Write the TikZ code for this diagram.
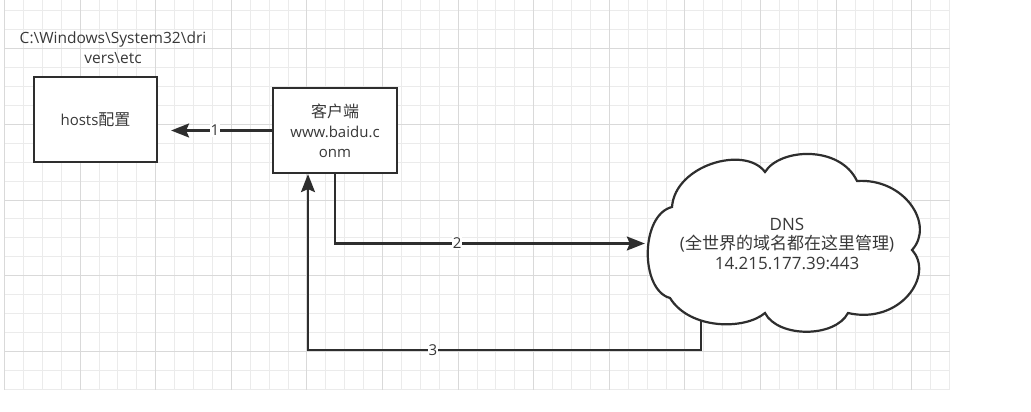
\documentclass[tikz,border=0pt]{standalone}
\usepackage{fontspec}
\setmainfont{Open Sans}
\newfontfamily\cjk{Noto Sans CJK SC}
\newcommand\zh[1]{{\cjk\fontsize{16}{20}\selectfont #1}}
\usetikzlibrary{arrows.meta}
\definecolor{ink}{HTML}{2E2E2E}
\definecolor{txt}{HTML}{383838}
\definecolor{gridminor}{HTML}{EBEBEB}
\definecolor{gridmajor}{HTML}{D9D9D9}
\begin{document}
\begin{tikzpicture}[x=1pt,y=-1pt,
  txtfont/.style={text=txt,font=\fontsize{15}{20}\selectfont},
  box/.style={draw=ink,line width=2.2pt,fill=white,inner sep=0pt,
    align=center,txtfont},
  conn/.style={draw=ink,line width=2.2pt,
    -{Stealth[length=18pt,width=14pt,inset=3pt]}},
  lbl/.style={fill=white,inner sep=1pt,txtfont},
  shape outline/.style={draw=ink,line width=2.2pt,fill=white}]
\useasboundingbox (0,0) rectangle (1031,412);
\fill[white] (0,0) rectangle (1031,412);

% background grid: fine lines every 18.9, heavier every fourth
\foreach \i in {0,...,50}
  \draw[gridminor,line width=1pt] ({4.5+18.9*\i},0) -- ({4.5+18.9*\i},389.5);
\foreach \j in {1,...,21}
  \draw[gridminor,line width=1pt] (4.5,{-7.9+18.9*\j}) -- (949.5,{-7.9+18.9*\j});
\foreach \i in {0,4,...,48}
  \draw[gridmajor,line width=1pt] ({4.5+18.9*\i},0) -- ({4.5+18.9*\i},389.5);
\foreach \j in {3,7,...,19}
  \draw[gridmajor,line width=1pt] (4.5,{-7.9+18.9*\j}) -- (949.5,{-7.9+18.9*\j});

% boxes
\node[box,minimum width=123pt,minimum height=85pt] (hosts) at (95.5,119.5)
  {hosts\zh{配置}};
\node[align=center,inner sep=0pt,text=txt,font=\fontsize{15.5}{20}\selectfont]
  (hostspath) at (113,48)
  {C:\textbackslash Windows\textbackslash System32\textbackslash dri\\
   vers\textbackslash etc};
\node[box,minimum width=124pt,minimum height=85pt] (client) at (335,130.5)
  {\zh{客户端}\\www.baidu.c\\onm};

% invisible frame of the cloud, used as the connector target
\node[inner sep=0pt,minimum width=284pt,minimum height=177pt] (dns) at (787,243.5) {};
\coordinate (foot) at (701,300);
\coordinate (turn) at (308,350);

% step 3: back from the cloud to the client
\draw[conn] (foot) |- node[pos=0.841,lbl] {3} (turn) -- (turn |- client.south);

% the cloud
\draw[shape outline]
  (670,298) .. controls (640,290) and (640,215) .. (672,207)
  .. controls (675,165) and (745,145) .. (765,172)
  .. controls (780,148) and (840,145) .. (857,181)
  .. controls (905,178) and (935,225) .. (912,250)
  .. controls (935,275) and (900,325) .. (848,313)
  .. controls (835,338) and (778,338) .. (765,313)
  .. controls (745,330) and (690,330) .. (670,298) -- cycle;
\node[align=center,inner sep=0pt,text=txt,font=\fontsize{17}{19.5}\selectfont]
  (dnstext) at (dns.center)
  {DNS\\({\cjk\fontsize{17}{19.5}\selectfont 全世界的域名都在这里管理})\\14.215.177.39:443};

% step 1: look up the hosts file
\draw[conn,shorten >=13pt] (client.west) -- (client.west -| hosts.east)
  node[midway,lbl] {1};
% step 2: ask the DNS
\draw[conn] (client.south) |- node[pos=0.697,lbl] {2} (dns.west);
\end{tikzpicture}
\end{document}
